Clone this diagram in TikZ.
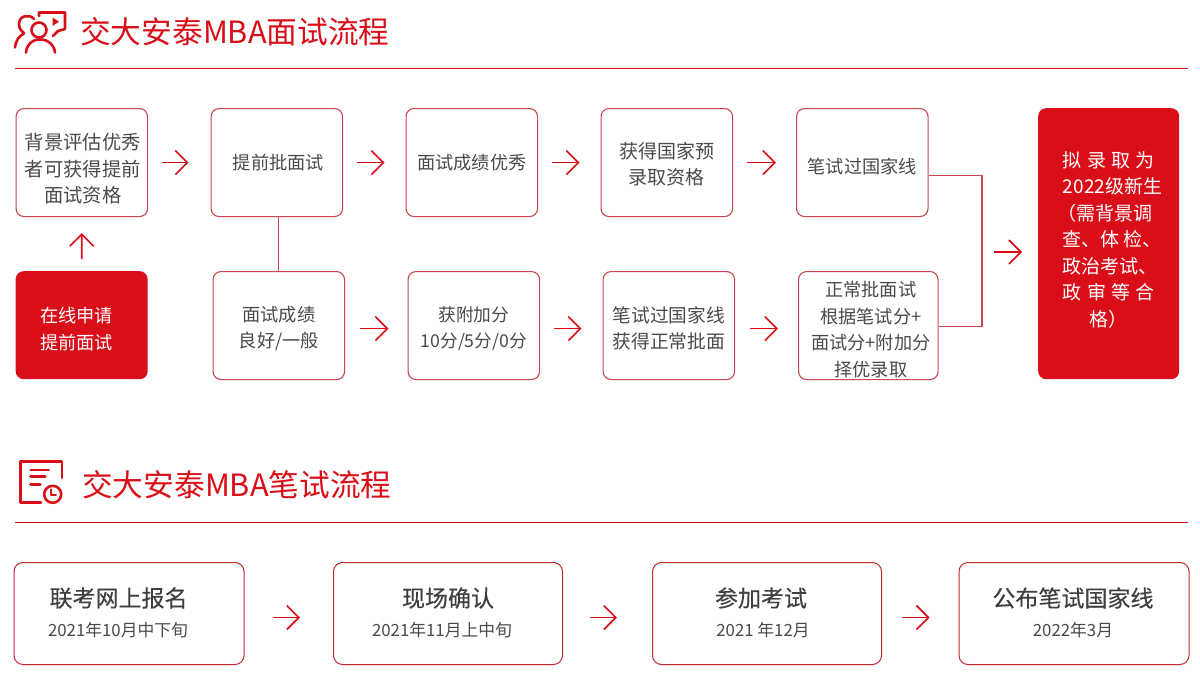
\documentclass[tikz,border=0pt]{standalone}
\usepackage{fontspec}
\setmainfont{Noto Sans CJK SC}
\newfontfamily\medf[FakeBold=0.25]{Noto Sans CJK SC}
\usetikzlibrary{arrows.meta}
\definecolor{rd}{HTML}{D90E18}
\definecolor{bd}{HTML}{C9474C}
\definecolor{bd2}{HTML}{C2272D}
\definecolor{tx}{HTML}{4A4A4A}
\tikzset{
  fs/.style={font=\fontsize{#1}{26.5}\selectfont},
  box/.style={draw=bd,line width=1.1pt,rounded corners=8pt,fill=white,inner sep=0pt,
    align=center,text=tx,fs=18.2,anchor=north west},
  redbox/.style={fill=rd,rounded corners=8pt,inner sep=0pt,align=center,text=white,
    fs=18.2,anchor=north west},
  wbox/.style={draw=bd2,line width=1pt,rounded corners=9pt,fill=white,inner sep=0pt,anchor=north west},
  arr/.style={draw=rd,line width=1.6pt,-{Straight Barb[length=12pt,width=24pt,line width=1.6pt]}},
  conn/.style={draw=bd,line width=1.1pt},
  rule/.style={draw=rd,line width=0.9pt},
  title/.style={text=rd,font=\fontsize{30.7}{34}\selectfont,anchor=west,inner sep=0pt},
  bigt/.style={text=tx!85!black,font=\fontsize{23}{27}\medf\selectfont,inner sep=0pt},
  smallt/.style={text=tx,font=\fontsize{16.8}{20}\selectfont,inner sep=0pt},
  ico/.style={draw=rd,line width=2.6pt,line cap=round,line join=round},
}
\newcommand{\jl}[2][l]{\makebox[91.5pt][#1]{#2}}
\newcommand{\dn}[1]{\rule{0pt}{#1pt}}
\newcommand{\pl}[1]{\mbox{}\hspace{#1pt}}
\newcommand{\pr}[1]{\hspace{#1pt}\mbox{}}
\begin{document}
\begin{tikzpicture}[x=1pt,y=-1pt]
\useasboundingbox (0,0) rectangle (1200,680);
% titles
\node[title] (t1) at (80,32) {交大安泰MBA面试流程};
\node[title] (t2) at (82,485) {交大安泰MBA笔试流程};
\coordinate (r1a) at (15,68.5); \coordinate (r1b) at (1188,68.5);
\coordinate (r2a) at (15,522); \coordinate (r2b) at (1188,522);
\draw[rule] (r1a) -- (r1b);
\draw[rule] (r2a) -- (r2b);
% icon 1
\draw[ico] (39,30) circle (7.5);
\draw[ico] (26,52.5) .. controls (27,44) and (32,39.5) .. (40,39.5) .. controls (48,39.5) and (54,44) .. (55,52.5);
\draw[ico] (34,19) .. controls (30,14) and (19,15) .. (19,24) .. controls (19,28) and (21,31) .. (24,33);
\draw[ico] (15,47.5) .. controls (16,40) and (19,36) .. (24,33.5);
\draw[ico] (39,16) -- (39,12.5) -- (65,12.5) -- (65,29) -- (58,31) -- (53,36);
\draw[fill=rd,draw=none] (52.5,17.5) -- (59,21.7) -- (52.5,26) -- cycle;
% icon 2
\draw[ico] (41,502.7) -- (20.5,502.7) -- (20.5,461.5) -- (62,461.5) -- (62,478);
\draw[ico] (30.5,470) -- (48.7,470) (30.5,476.7) -- (45.3,476.7) (30.5,484.3) -- (40.3,484.3);
\draw[ico] (52.7,494.3) circle (8.5);
\draw[ico,line width=1.8pt] (51.3,489.3) -- (51.3,495.3) -- (56,495.3);
% row 1
\node[box,fs=19.3,minimum width=131.5pt,minimum height=108pt] (a1) at (15.5,108) {\pl{2}\dn{29}背景评估优秀\\\pl{2}者可获得提前\\\pl{2}面试资格};
\node[box,minimum width=131.5pt,minimum height=108pt] (a2) at (210.5,108) {\pl{3}提前批面试};
\node[box,minimum width=131.5pt,minimum height=108pt] (a3) at (405.5,108) {面试成绩优秀};
\node[box,fs=19,minimum width=131.5pt,minimum height=108pt] (a4) at (600.5,108) {\dn{19}获得国家预\\录取资格};
\node[box,minimum width=131.5pt,minimum height=108pt] (a5) at (796,108) {\dn{23}笔试过国家线};
% row 2
\node[redbox,minimum width=132pt,minimum height=108pt] (s) at (15.5,271) {\dn{23}在线申请\pr{10}\\提前面试\pr{10}};
\node[box,minimum width=131.5pt,minimum height=108pt] (b1) at (212.5,271) {\dn{21}面试成绩\\良好/一般};
\node[box,fs=17.7,minimum width=131.5pt,minimum height=108pt] (b2) at (407.5,271) {\dn{21}获附加分\\10分/5分/0分};
\node[box,fs=18.7,minimum width=131.5pt,minimum height=108pt] (b3) at (602.5,271) {\dn{21}笔试过国家线\\获得正常批面};
\node[box,minimum width=139.5pt,minimum height=108pt] (b4) at (798,271) {\pl{5}\dn{23}正常批面试\\\pl{5}根据笔试分+\\\pl{5}面试分+附加分\\\pl{5}择优录取};
% final
\node[redbox,fs=19,minimum width=141pt,minimum height=271pt] (f) at (1038,108) {\jl[s]{拟\hfill 录\hfill 取\hfill 为}\\\jl{2022级新生}\\\jl{\hspace{-5pt}（需背景调}\\\jl{查、体\,检、}\\\jl{政治考试、}\\\jl[s]{政\hfill 审\hfill 等\hfill 合}\\\jl[c]{格）}\rule[-10pt]{0pt}{0pt}};
% connectors
\draw[arr,shorten <=14pt,shorten >=22pt] (a1.east) -- (a2.west);
\draw[arr,shorten <=14pt,shorten >=21pt] (a2.east) -- (a3.west);
\draw[arr,shorten <=14pt,shorten >=21pt] (a3.east) -- (a4.west);
\draw[arr,shorten <=14pt,shorten >=20pt] (a4.east) -- (a5.west);
\draw[arr,shorten <=12pt,shorten >=16pt] (s.north) -- (a1.south);
\draw[arr,shorten <=15pt,shorten >=19pt] ([yshift=-3pt]b1.east) -- ([yshift=-3pt]b2.west);
\draw[arr,shorten <=14pt,shorten >=21pt] ([yshift=-3pt]b2.east) -- ([yshift=-3pt]b3.west);
\draw[arr,shorten <=15pt,shorten >=20pt] ([yshift=-3pt]b3.east) -- ([yshift=-3pt]b4.west);
\draw[conn] (a2.south -| b1.north) -- (b1.north);
\coordinate (m) at (982,252);
\draw[conn] ([yshift=-13pt]a5.east) -| (m) |- ([yshift=-1pt]b4.east);
\draw[arr,shorten <=12pt,shorten >=16pt] (m) -- (f.west |- m);
% bottom
\node[wbox,minimum width=230pt,minimum height=102pt] (c1) at (13.5,562) {};
\node[wbox,minimum width=229pt,minimum height=102pt] (c2) at (333,562) {};
\node[wbox,minimum width=229pt,minimum height=102pt] (c3) at (652,562) {};
\node[wbox,minimum width=230pt,minimum height=102pt] (c4) at (958.5,562) {};
\node[bigt] (c1a) at (118.5,598) {联考网上报名};
\node[smallt] (c1b) at (118,630) {2021年10月中下旬};
\node[bigt] (c2a) at (448,598) {现场确认};
\node[smallt] (c2b) at (442,630) {2021年11月上中旬};
\node[bigt] (c3a) at (761,598) {参加考试};
\node[smallt] (c3b) at (763,630) {2021 年12月};
\node[bigt] (c4a) at (1073,598) {公布笔试国家线};
\node[smallt] (c4b) at (1073,630) {2022年3月};
\draw[arr,shorten <=28pt,shorten >=33pt] ([yshift=-4pt]c1.east) -- ([yshift=-4pt]c2.west);
\draw[arr,shorten <=27pt,shorten >=35pt] ([yshift=-4pt]c2.east) -- ([yshift=-4pt]c3.west);
\draw[arr,shorten <=20pt,shorten >=29pt] ([yshift=-4pt]c3.east) -- ([yshift=-4pt]c4.west);
\end{tikzpicture}
\end{document}
